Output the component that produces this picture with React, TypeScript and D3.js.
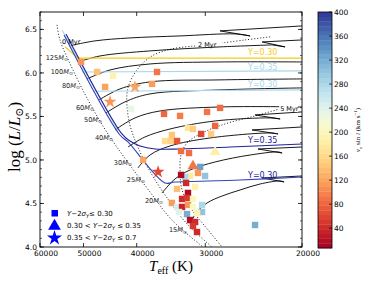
import React from 'react';
import * as d3 from 'd3';

// ---------- axes ----------
const xTicks = [60000, 50000, 40000, 30000, 20000];
const yTicks = [4.0, 4.5, 5.0, 5.5, 6.0, 6.5];
const cbTicks = [40, 80, 120, 160, 200, 240, 280, 320, 360, 400];

// ---------- observed stars: [Teff, logL, vsini] ----------
const squares: number[][] = [
  [50510, 6.126, 110], [47230, 6.011, 140], [44170, 5.966, 190], [36730, 6.011, 90],
  [37510, 5.874, 115], [45670, 5.839, 120], [40980, 5.586, 230], [35670, 5.529, 80],
  [33350, 5.506, 95], [32260, 5.368, 175], [28200, 5.598, 85], [29780, 5.552, 90],
  [28790, 5.391, 80], [31590, 5.356, 150], [30530, 5.299, 60], [29280, 5.299, 150],
  [34510, 5.287, 145], [35520, 5.218, 165], [34650, 5.218, 155], [33770, 5.218, 70],
  [33210, 5.103, 85], [32120, 5.08, 85], [38940, 5.0, 120], [30660, 4.92, 330],
  [30030, 4.816, 300], [30930, 4.851, 110], [31980, 4.816, 180], [32660, 4.805, 280],
  [33210, 4.828, 15], [32520, 4.736, 40], [31310, 4.69, 190], [33770, 4.667, 140],
  [32260, 4.621, 15], [33070, 4.552, 40], [32390, 4.563, 50], [31590, 4.552, 200],
  [34510, 4.506, 115], [33770, 4.46, 250], [33070, 4.46, 35], [32260, 4.483, 110],
  [31590, 4.46, 210], [30410, 4.483, 280], [33490, 4.402, 240], [30410, 4.402, 300],
  [31060, 4.391, 190], [32390, 4.379, 320], [31980, 4.31, 20], [31310, 4.287, 40],
  [31590, 4.241, 50], [31060, 4.172, 40], [24350, 4.253, 320],
];
const triangles: number[][] = [
  [28790, 5.092, 185], [31590, 4.931, 90],
];
const stars: number[][] = [
  [40290, 5.839, 120], [44730, 5.667, 110], [36570, 4.862, 60],
];

// ---------- evolutionary tracks [Teff, logL] ----------
const track125 = [[53130, 6.31], [47650, 6.368], [41150, 6.402], [33350, 6.425], [26480, 6.448], [24860, 6.425]];
const hook125 = [[24860, 6.425], [28200, 6.483], [20000, 6.54]];
const track100 = [[51160, 6.126], [46640, 6.195], [37830, 6.253], [28200, 6.299], [22670, 6.322]];
const hook100 = [[22670, 6.322], [21470, 6.299], [23640, 6.356], [20000, 6.379]];
const track80 = [[49270, 5.931], [44730, 6.034], [37830, 6.103], [28200, 6.126], [20000, 6.126]];
const track60 = [[46840, 5.69], [42910, 5.816], [37830, 5.897], [28200, 5.92], [20000, 5.931]];
const track50 = [[45490, 5.54], [42020, 5.667], [37830, 5.759], [28200, 5.805], [20000, 5.828]];
const track40 = [[43800, 5.345], [40290, 5.483], [36280, 5.563], [28200, 5.609], [20000, 5.609]];
const track30 = [[41490, 5.149], [38640, 5.264], [34780, 5.356], [28790, 5.448], [22860, 5.483], [21920, 5.471]];
const hook30 = [[21920, 5.471], [24350, 5.517], [20000, 5.552]];
const track25 = [[39790, 4.908], [37830, 5.057], [34780, 5.161], [29400, 5.253], [22860, 5.31], [22110, 5.299]];
const hook25 = [[22110, 5.299], [24660, 5.345], [20000, 5.379]];
const track20 = [[35970, 4.621], [34060, 4.782], [31980, 4.885], [28790, 4.977], [24860, 5.057], [22110, 5.092], [21740, 5.08]];
const hook20 = [[21740, 5.08], [24050, 5.126], [20000, 5.149]];
const track15 = [[31980, 4.264], [31180, 4.391], [29780, 4.506], [27960, 4.586], [25930, 4.655], [23840, 4.724], [21920, 4.759], [21560, 4.747]];
const hook15 = [[21560, 4.747], [23640, 4.793], [20000, 4.816]];

const massLabels: [string, number, number][] = [
  ['125', 53350, 6.149], ['100', 52250, 5.989], ['80', 50730, 5.828], ['60', 47840, 5.575],
  ['50', 46250, 5.437], ['40', 44170, 5.23], ['30', 40800, 4.943], ['25', 38640, 4.747],
  ['20', 35820, 4.506], ['15', 32390, 4.172],
];

// ---------- isochrones (dotted) ----------
const iso0 = [[55870, 6.552], [55180, 6.379], [52460, 6.057], [49060, 5.69], [45860, 5.368], [43610, 5.161], [40800, 4.908], [37830, 4.632], [34510, 4.31], [30280, 4.0]];
const iso2Right = [[22860, 6.414], [25390, 6.379], [27960, 6.345]];
const iso2Left = [[31310, 6.31], [34510, 6.276], [37510, 6.195], [39960, 6.034], [41490, 5.828], [41670, 5.632], [41150, 5.402], [39960, 5.172], [38140, 4.908], [35520, 4.598], [32260, 4.253], [29160, 4.0]];
const iso5 = [[21650, 5.598], [24350, 5.506], [27610, 5.414], [30660, 5.299], [32390, 5.195], [33210, 5.057], [33350, 4.885], [33070, 4.655], [31710, 4.425], [29650, 4.195], [27960, 4.0]];

// ---------- helium lines ----------
const zamsY30 = [[54250, 6.437], [42910, 5.287], [41490, 5.207], [35520, 4.736], [34060, 4.747], [25930, 4.77], [20000, 4.805]];
const zamsY35 = [[53800, 6.448], [42550, 5.299], [41150, 5.218], [39460, 5.161], [37040, 5.126], [33350, 5.126], [27030, 5.149], [20000, 5.184]];
const zamsLight = [[54710, 6.494], [43250, 5.333]];
const yellowY30 = [[54020, 6.30], [51160, 6.17], [20000, 6.17]];
const lightY35 = [[50310, 6.011], [20000, 6.023]];
const lightY30 = [[48040, 5.79], [20000, 5.805]];

const NAVY = '#22229a';
const LIGHT = '#a8d6ec';
const GOLD = '#f5cc1b';

export default function App() {
  const L = 40, R = 302, T = 12, B = 247;
  const x = d3.scaleLog().domain([60000, 20000]).range([L, R]);
  const y = d3.scaleLinear().domain([4.0, 6.7]).range([B, T]);
  const color = d3.scaleSequential(d3.interpolateRdYlBu).domain([7, 400]);
  const cbX = 318, cbW = 14;
  const yc = d3.scaleLinear().domain([7, 400]).range([248, 12]);

  const smooth = d3.line<number[]>().x(d => x(d[0])).y(d => y(d[1])).curve(d3.curveCatmullRom.alpha(0.5));
  const lin = d3.line<number[]>().x(d => x(d[0])).y(d => y(d[1]));

  const tracks = [track125, track100, track80, track60, track50, track40, track30, track25, track20, track15];
  const hooks = [hook125, hook100, hook30, hook25, hook20, hook15];

  const minorY = d3.range(40, 68).map(v => v / 10);
  const nBands = 50;
  const bands = d3.range(nBands).map(i => {
    const v0 = 7 + (393 * i) / nBands;
    const v1 = 7 + (393 * (i + 1)) / nBands;
    return { v0, v1, col: color((v0 + v1) / 2) };
  });

  const star = d3.symbol().type(d3.symbolStar);
  const tri = d3.symbol().type(d3.symbolTriangle);
  const sans = 'DejaVu Sans, sans-serif';
  const serif = 'Liberation Serif, DejaVu Serif, serif';

  return (
    <svg width={376} height={282} style={{ position: 'absolute', left: 0, top: 0, background: '#fff' }}>
      <defs>
        <clipPath id="plot"><rect x={L} y={T} width={R - L} height={B - T} /></clipPath>
      </defs>
      <rect x={0} y={0} width={376} height={282} fill="#fff" />
      <g clipPath="url(#plot)">
        {[iso0, iso2Right, iso2Left, iso5].map((d, i) => (
          <path key={'iso' + i} d={smooth(d) || ''} fill="none" stroke="#000" strokeWidth={0.9} strokeDasharray="1,2" />
        ))}
        {tracks.map((d, i) => (
          <path key={'t' + i} d={smooth(d) || ''} fill="none" stroke="#000" strokeWidth={0.9} />
        ))}
        {hooks.map((d, i) => (
          <path key={'h' + i} d={lin(d) || ''} fill="none" stroke="#000" strokeWidth={0.9} />
        ))}
        <path d={lin(zamsLight) || ''} fill="none" stroke={LIGHT} strokeWidth={1.1} />
        <path d={lin(yellowY30) || ''} fill="none" stroke={GOLD} strokeWidth={1.2} />
        <path d={lin(lightY35) || ''} fill="none" stroke={LIGHT} strokeWidth={1.1} />
        <path d={lin(lightY30) || ''} fill="none" stroke={LIGHT} strokeWidth={1.1} />
        <path d={smooth(zamsY35) || ''} fill="none" stroke={NAVY} strokeWidth={1.1} />
        <path d={smooth(zamsY30) || ''} fill="none" stroke="#3344b8" strokeWidth={1.1} />
        <rect x={x(21920) - 1} y={y(5.563) - 6} width={19} height={7} fill="#fff" />
        {squares.map((d, i) => (
          <rect key={'s' + i} x={x(d[0]) - 3.2} y={y(d[1]) - 3.2} width={6.4} height={6.4} fill={color(d[2])} />
        ))}
        {triangles.map((d, i) => (
          <path key={'tr' + i} d={tri.size(52)() || ''} transform={`translate(${x(d[0])},${y(d[1])})`} fill={color(d[2])} />
        ))}
        {stars.map((d, i) => (
          <path key={'st' + i} d={star.size(52)() || ''} transform={`translate(${x(d[0])},${y(d[1])})`} fill={color(d[2])} />
        ))}
      </g>

      {/* inline labels */}
      <g fontFamily={sans}>
        <text x={x(54710)} y={y(6.333)} fontSize={6.5} fill="#000">0 Myr</text>
        <text x={x(30930)} y={y(6.299)} fontSize={6.5} fill="#000">2 Myr</text>
        <text x={x(21920)} y={y(5.563)} fontSize={6.5} fill="#000">5 Myr</text>
        <text x={x(25080)} y={y(6.207)} fontSize={8} fill={GOLD}>Y=0.30</text>
        <text x={x(25080)} y={y(6.034)} fontSize={8} fill={LIGHT}>Y=0.35</text>
        <text x={x(25080)} y={y(5.839)} fontSize={8} fill={LIGHT}>Y=0.30</text>
        <text x={x(25080)} y={y(5.195)} fontSize={8} fill={NAVY}>Y=0.35</text>
        <text x={x(25080)} y={y(4.793)} fontSize={8} fill={NAVY}>Y=0.30</text>
        {massLabels.map(([m, t, l]) => (
          <text key={m} x={x(t)} y={y(l)} fontSize={6.6} textAnchor="end" fill="#222">
            {m}<tspan fontStyle="italic">M</tspan><tspan fontSize={4.8} dy={1.5}>⊙</tspan>
          </text>
        ))}
      </g>

      {/* frame + ticks */}
      <rect x={L} y={T} width={R - L} height={B - T} fill="none" stroke="#000" strokeWidth={0.9} />
      {xTicks.map(t => (
        <g key={'xt' + t}>
          <line x1={x(t)} x2={x(t)} y1={B} y2={B - 4} stroke="#000" strokeWidth={0.8} />
          <line x1={x(t)} x2={x(t)} y1={T} y2={T + 4} stroke="#000" strokeWidth={0.8} />
          <text x={x(t) + 6} y={B + 9} fontSize={7.5} fontFamily={sans} textAnchor="middle">{t}</text>
        </g>
      ))}
      {minorY.map(t => (
        <g key={'my' + t}>
          <line x1={L} x2={L + 2} y1={y(t)} y2={y(t)} stroke="#000" strokeWidth={0.6} />
          <line x1={R} x2={R - 2} y1={y(t)} y2={y(t)} stroke="#000" strokeWidth={0.6} />
        </g>
      ))}
      {yTicks.map(t => (
        <g key={'yt' + t}>
          <line x1={L} x2={L + 4} y1={y(t)} y2={y(t)} stroke="#000" strokeWidth={0.8} />
          <line x1={R} x2={R - 4} y1={y(t)} y2={y(t)} stroke="#000" strokeWidth={0.8} />
          <text x={L - 3} y={y(t) + 2.7} fontSize={7.5} fontFamily={sans} textAnchor="end">{t.toFixed(1)}</text>
        </g>
      ))}

      {/* axis labels */}
      <text transform="translate(20,137) rotate(-90)" fontFamily={serif} fontSize={17} textAnchor="middle">
        log (<tspan fontStyle="italic">L</tspan>/<tspan fontStyle="italic">L</tspan><tspan fontSize={11} dy={3}>⊙</tspan><tspan dy={-3}>)</tspan>
      </text>
      <text x={171} y={271} fontFamily={serif} fontSize={15} textAnchor="middle">
        <tspan fontStyle="italic">T</tspan><tspan fontSize={10} dy={3}>eff</tspan><tspan dy={-3}> (K)</tspan>
      </text>

      {/* legend */}
      <g fontFamily={sans} fontSize={7}>
        <rect x={51.5} y={210} width={6.5} height={6.5} fill="#0000ff" />
        <path d={tri.size(70)() || ''} transform="translate(54.5,226)" fill="#0000ff" />
        <path d={star.size(70)() || ''} transform="translate(54.5,238)" fill="#0000ff" />
        <text x={67} y={216}><tspan fontStyle="italic">Y</tspan>−2<tspan fontStyle="italic">σ</tspan><tspan fontSize={5} dy={1.5} fontStyle="italic">Y</tspan><tspan dy={-1.5}>≤ 0.30</tspan></text>
        <text x={67} y={228}>0.30 &lt; <tspan fontStyle="italic">Y</tspan>−2<tspan fontStyle="italic">σ</tspan><tspan fontSize={5} dy={1.5} fontStyle="italic">Y</tspan><tspan dy={-1.5}> ≤ 0.35</tspan></text>
        <text x={67} y={240}>0.35 &lt; <tspan fontStyle="italic">Y</tspan>−2<tspan fontStyle="italic">σ</tspan><tspan fontSize={5} dy={1.5} fontStyle="italic">Y</tspan><tspan dy={-1.5}> ≤ 0.7</tspan></text>
      </g>

      {/* colorbar */}
      {bands.map((b, i) => (
        <rect key={'b' + i} x={cbX} y={yc(b.v1)} width={cbW} height={yc(b.v0) - yc(b.v1) + 0.3} fill={b.col} />
      ))}
      <rect x={cbX} y={12} width={cbW} height={236} fill="none" stroke="#000" strokeWidth={0.8} />
      {cbTicks.map(t => (
        <g key={'cb' + t}>
          <line x1={cbX + cbW} x2={cbX + cbW - 3} y1={yc(t)} y2={yc(t)} stroke="#000" strokeWidth={0.7} />
          <text x={cbX + cbW + 2} y={yc(t) + 2.7} fontSize={7.5} fontFamily={sans}>{t}</text>
        </g>
      ))}
      <text transform="translate(360,130) rotate(-90)" fontFamily={serif} fontSize={7} textAnchor="middle">
        <tspan fontStyle="italic">v</tspan><tspan fontSize={5} dy={1.5} fontStyle="italic">e</tspan><tspan dy={-1.5}> sin </tspan><tspan fontStyle="italic">i</tspan> (km s<tspan fontSize={5} dy={-3}>−1</tspan><tspan dy={3}>)</tspan>
      </text>
    </svg>
  );
}
